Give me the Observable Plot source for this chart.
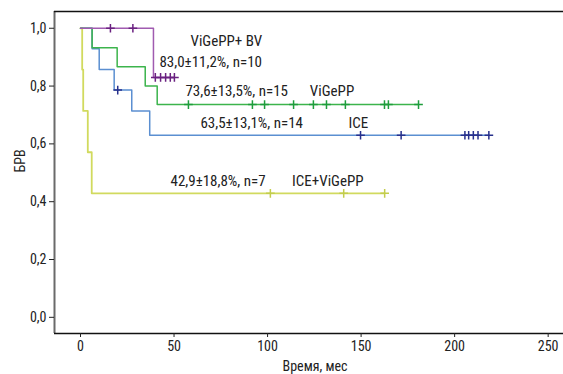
<!DOCTYPE html>
<html>
<head>
<meta charset="utf-8">
<script src="https://cdn.jsdelivr.net/npm/d3@7"></script>
<script src="https://cdn.jsdelivr.net/npm/@observablehq/plot@0.6"></script>
<style>
  html, body { margin: 0; padding: 0; background: #fff; }
  #chart svg { display: block; }
  #chart text { font-family: "Roboto Condensed", "DejaVu Sans Condensed", "Liberation Sans Narrow", Roboto, sans-serif; font-stretch: condensed; }
</style>
</head>
<body>
<div id="chart"></div>
<script>
// ---- Data ----
const seriesNames = ["ICE+ViGePP", "ICE", "ViGePP", "ViGePP+ BV"];

// ViGePP+ BV
const bvEventTimes = [0, 39];
const bvSurvival   = [1, 0.83];
const bvCensored   = [16, 28, 40, 42.8, 45.5, 48, 50.2];

// ViGePP
const vgEventTimes = [0, 6.2, 19.6, 34.6, 41];
const vgSurvival   = [1, 0.933, 0.867, 0.80, 0.736];
const vgCensored   = [57.7, 91.9, 98.4, 113.9, 124.5, 131.5, 141.6, 162.5, 164.6, 180.7];

// ICE
const iceEventTimes = [0, 6.2, 10, 18, 27.4, 37];
const iceSurvival   = [1, 0.929, 0.857, 0.786, 0.714, 0.63];
const iceCensored   = [19.9, 149.7, 171.4, 205.5, 207.5, 210, 212.5, 218.3];

// ICE+ViGePP
const icevEventTimes = [0, 0.9, 1.45, 3.9, 6.0];
const icevSurvival   = [1, 0.857, 0.714, 0.571, 0.429];
const icevCensored   = [101.5, 140.7, 162.6];

// Annotation texts
const annoTexts = ["ViGePP+ BV", "83,0±11,2%, n=10", "73,6±13,5%, n=15", "ViGePP",
                   "63,5±13,1%, n=14", "ICE", "42,9±18,8%, n=7", "ICE+ViGePP"];
const annoT = [58.8, 42.2, 56.1, 122.6, 64.1, 143.3, 48.1, 113.1];
const annoS = [0.955, 0.881, 0.781, 0.782, 0.671, 0.671, 0.470, 0.470];

const xTicks = [0, 50, 100, 150, 200, 250];
const yTicks = [0, 0.2, 0.4, 0.6, 0.8, 1.0];
const xLabel = "Время, мес";
const yLabel = "БРВ";

// ---- Build ----
const xDomain = [-13.9, 258.2];
const yDomain = [-0.056, 1.058];

function steps(times, surv, cens) {
  const rows = times.map((t, i) => ({t, s: surv[i]}));
  const end = Math.max(times[times.length - 1], ...cens);
  rows.push({t: end, s: surv[surv.length - 1]});
  return rows;
}
function survAt(times, surv, t) {
  let s = surv[0];
  for (let i = 0; i < times.length; i++) if (times[i] <= t) s = surv[i];
  return s;
}
function censRows(times, surv, cens) {
  return cens.map(t => ({t, s: survAt(times, surv, t)}));
}

const groups = [
  {times: icevEventTimes, surv: icevSurvival, cens: icevCensored, line: "#d1da5e", mark: "#c3cd4c", w: 1.8},
  {times: iceEventTimes, surv: iceSurvival, cens: iceCensored, line: "#5b8fd1", mark: "#27308c", w: 1.5},
  {times: vgEventTimes, surv: vgSurvival, cens: vgCensored, line: "#3cb44c", mark: "#1e9d3c", w: 1.5},
  {times: bvEventTimes, surv: bvSurvival, cens: bvCensored, line: "#a05bb0", mark: "#6a2180", w: 1.5}
];

const marks = [];
marks.push(Plot.ruleX([xDomain[0]], {stroke: "#6a6a6a", strokeWidth: 2}));
marks.push(Plot.ruleY([yDomain[1]], {stroke: "#111", strokeWidth: 1.6}));
marks.push(Plot.ruleY([yDomain[0]], {stroke: "#111", strokeWidth: 1.6}));
for (const g of groups) {
  marks.push(Plot.line(steps(g.times, g.surv, g.cens), {x: "t", y: "s", curve: "step-after", stroke: g.line, strokeWidth: g.w}));
}
for (const g of groups) {
  marks.push(Plot.dot(censRows(g.times, g.surv, g.cens), {x: "t", y: "s", symbol: "plus", r: 2.9, stroke: g.mark, strokeWidth: 1.5}));
}
const annos = annoTexts.map((text, i) => ({text, t: annoT[i], s: annoS[i]}));
marks.push(Plot.text(annos, {x: "t", y: "s", text: "text", textAnchor: "start", lineAnchor: "middle", fontSize: 15, fill: "#222"}));
marks.push(Plot.axisX({ticks: xTicks, tickSize: 4, tickPadding: 4, fontSize: 14, label: null, tickFormat: d => String(d)}));
marks.push(Plot.axisY({ticks: yTicks, tickSize: 5, tickPadding: 3, fontSize: 14, label: null, tickFormat: d => d.toFixed(1).replace(".", ",")}));
marks.push(Plot.text([xLabel], {frameAnchor: "bottom", dy: 37, dx: 6, fontSize: 14, fill: "#222"}));
marks.push(Plot.text([yLabel], {frameAnchor: "left", dx: -34, rotate: -90, fontSize: 14, fill: "#222"}));

const chart = Plot.plot({
  width: 563,
  height: 374,
  marginLeft: 54,
  marginRight: 0,
  marginTop: 11,
  marginBottom: 41,
  x: {domain: xDomain},
  y: {domain: yDomain},
  style: {fontSize: "14px", color: "#222", background: "#fff"},
  marks
});
document.getElementById("chart").appendChild(chart);
</script>
</body>
</html>
